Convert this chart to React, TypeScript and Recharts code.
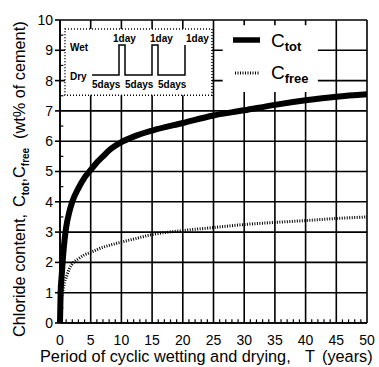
import React from 'react';
import { LineChart, Line, XAxis, YAxis, CartesianGrid, ReferenceArea, ReferenceLine } from 'recharts';

const years = [0, 0.1, 0.25, 0.5, 0.75, 1, 1.5, 2, 3, 4, 5, 6, 7, 8, 10, 12, 15, 20, 25, 30, 35, 40, 45, 50];
const cTot = [0, 1.0, 1.5, 2.2, 2.75, 3.15, 3.65, 4.0, 4.45, 4.8, 5.05, 5.3, 5.5, 5.7, 5.97, 6.15, 6.35, 6.6, 6.85, 7.02, 7.2, 7.35, 7.47, 7.55];
const cFree = [0, 0.55, 0.8, 1.1, 1.35, 1.5, 1.78, 1.95, 2.12, 2.25, 2.33, 2.42, 2.5, 2.56, 2.67, 2.77, 2.92, 3.05, 3.15, 3.25, 3.32, 3.38, 3.45, 3.5];
const xTicks = [0, 5, 10, 15, 20, 25, 30, 35, 40, 45, 50];
const yTicks = [0, 1, 2, 3, 4, 5, 6, 7, 8, 9, 10];
const xMinor = [1, 2, 3, 4, 6, 7, 8, 9, 11, 12, 13, 14, 16, 17, 18, 19, 21, 22, 23, 24, 26, 27, 28, 29, 31, 32, 33, 34, 36, 37, 38, 39, 41, 42, 43, 44, 46, 47, 48, 49];
const yMinor = [0.5, 1.5, 2.5, 3.5, 4.5, 5.5, 6.5, 7.5, 8.5, 9.5];

const data = years.map((t, i) => ({ t, tot: cTot[i], free: cFree[i] }));

const FONT = '"Liberation Sans", Arial, Helvetica, sans-serif';

const YLabel = () => (
  <text transform="translate(25, 337) rotate(-90)" fontFamily={FONT} fontSize={16.3} fill="#000">
    <tspan x={0}>Chloride content,</tspan>
    <tspan x={130}>C</tspan>
    <tspan fontSize={10} fontWeight="bold" dy={4}>tot</tspan>
    <tspan dy={-4}>,C</tspan>
    <tspan fontSize={10} fontWeight="bold" dy={4}>free</tspan>
    <tspan x={198} dy={-4}>(wt% of cement)</tspan>
  </text>
);

const XLabel = () => (
  <text x={40} y={362} fontFamily={FONT} fontSize={16.3} fill="#000">
    <tspan x={40}>Period of cyclic wetting and drying,</tspan>
    <tspan x={305}>T</tspan>
    <tspan x={322}>(years)</tspan>
  </text>
);

export default function App() {
  return (
    <div style={{ position: 'relative', width: 379, height: 367 }}>
      <style>{'body{margin:0;background:#fff}'}</style>
      <LineChart width={379} height={367} data={data} margin={{ top: 20, right: 12, bottom: 0, left: 0 }}>
        <CartesianGrid stroke="#000" strokeWidth={1.6} />
        <XAxis
          dataKey="t"
          type="number"
          domain={[0, 50]}
          ticks={xTicks}
          height={44}
          tickLine={false}
          tickSize={6}
          tickMargin={6}
          axisLine={{ stroke: '#000', strokeWidth: 1.6 }}
          tick={{ fontSize: 14, fill: '#000', fontFamily: FONT }}
          interval={0}
          label={<XLabel />}
        />
        <YAxis
          type="number"
          domain={[0, 10]}
          ticks={yTicks}
          width={60}
          tickSize={5}
          tickMargin={2}
          tickLine={{ stroke: '#000', strokeWidth: 1.6 }}
          axisLine={{ stroke: '#000', strokeWidth: 1.6 }}
          tick={{ fontSize: 14, fill: '#000', fontFamily: FONT }}
          interval={0}
          label={<YLabel />}
        />
        {xMinor.map((v) => (
          <ReferenceLine key={'xm' + v} segment={[{ x: v, y: 0 }, { x: v, y: 0.12 }]} stroke="#000" strokeWidth={1.2} />
        ))}
        {yMinor.map((v) => (
          <ReferenceLine key={'ym' + v} segment={[{ x: 0, y: v }, { x: 0.55, y: v }]} stroke="#000" strokeWidth={1.2} />
        ))}
        <ReferenceArea x1={0.81} x2={24.75} y1={7.52} y2={9.7} fill="#fff" fillOpacity={1} stroke="#000" strokeWidth={1.5} strokeDasharray="1 2" />
        <ReferenceArea x1={26.5} x2={42} y1={7.62} y2={9.83} fill="#fff" fillOpacity={1} stroke="none" />
        <Line dataKey="free" type="monotone" stroke="#000" strokeWidth={3} strokeDasharray="1 1.5" dot={false} isAnimationActive={false} />
        <Line dataKey="tot" type="monotone" stroke="#000" strokeWidth={6} dot={false} isAnimationActive={false} />
      </LineChart>
      <svg width={379} height={367} style={{ position: 'absolute', left: 0, top: 0, pointerEvents: 'none' }}>
        <polyline
          points="92,75 119,75 119,45 125,45 125,75 152,75 152,45 158,45 158,75 185,75 185,45"
          fill="none"
          stroke="#000"
          strokeWidth={1.5}
        />
        <g fontFamily={FONT} fontSize={10} fontWeight="bold" fill="#000">
          <text x={70} y={51}>Wet</text>
          <text x={70} y={80}>Dry</text>
          <text x={113} y={42}>1day</text>
          <text x={150} y={42}>1day</text>
          <text x={186} y={42}>1day</text>
          <text x={92} y={88}>5days</text>
          <text x={125} y={88}>5days</text>
          <text x={158} y={88}>5days</text>
        </g>
        <line x1={233} y1={40} x2={260} y2={40} stroke="#000" strokeWidth={5.5} />
        <line x1={235} y1={73} x2={260} y2={73} stroke="#000" strokeWidth={3} strokeDasharray="1 1.5" />
        <text x={271} y={47} fontFamily={FONT} fontSize={19} fill="#000">
          C<tspan fontSize={13} fontWeight="bold" dy={4}>tot</tspan>
        </text>
        <text x={271} y={79} fontFamily={FONT} fontSize={19} fill="#000">
          C<tspan fontSize={13} fontWeight="bold" dy={4}>free</tspan>
        </text>
      </svg>
    </div>
  );
}
